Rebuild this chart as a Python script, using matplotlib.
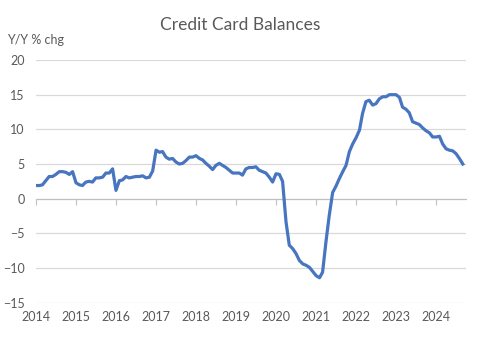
import pandas as pd
from matplotlib import pyplot as plt
import matplotlib.dates as mdates
import numpy as np

plt.rcParams['font.family'] = ['Lato', 'DejaVu Sans']

# monthly Y/Y % change, Jan 2014 .. Sep 2024
y2014 = [1.9, 1.9, 2.0, 2.6, 3.2, 3.2, 3.5, 3.9, 3.9, 3.8, 3.5, 3.9]
y2015 = [2.3, 2.0, 1.9, 2.4, 2.5, 2.4, 3.0, 3.0, 3.1, 3.7, 3.7, 4.3]
y2016 = [1.2, 2.6, 2.7, 3.2, 3.0, 3.1, 3.2, 3.2, 3.3, 3.0, 3.1, 4.0]
y2017 = [7.0, 6.7, 6.8, 6.0, 5.7, 5.8, 5.3, 5.0, 5.1, 5.5, 6.0, 6.0]
y2018 = [6.2, 5.8, 5.6, 5.1, 4.7, 4.2, 4.8, 5.1, 4.8, 4.5, 4.1, 3.7]
y2019 = [3.7, 3.7, 3.4, 4.3, 4.5, 4.5, 4.6, 4.1, 3.9, 3.7, 3.1, 2.4]
y2020 = [3.6, 3.5, 2.5, -3.3, -6.7, -7.2, -7.9, -8.9, -9.4, -9.6, -9.9, -10.5]
y2021 = [-11.1, -11.4, -10.6, -6.2, -2.4, 0.9, 1.8, 2.9, 3.9, 4.8, 6.8, 7.9]
y2022 = [8.8, 9.9, 12.3, 14.0, 14.2, 13.5, 13.7, 14.4, 14.7, 14.7, 15.0, 15.0]
y2023 = [15.0, 14.6, 13.2, 12.9, 12.4, 11.1, 10.9, 10.7, 10.2, 9.8, 9.5, 8.9]
y2024 = [8.9, 9.0, 7.9, 7.2, 7.0, 6.9, 6.5, 5.8, 5.0]

values = y2014 + y2015 + y2016 + y2017 + y2018 + y2019 + y2020 + y2021 + y2022 + y2023 + y2024
dates = pd.date_range('2014-01-01', periods=len(values), freq='MS')
yticks = [-15, -10, -5, 0, 5, 10, 15, 20]

txt = '#595959'
fig = plt.figure(figsize=(4.8, 3.39), dpi=100)
ax = fig.add_axes([0.075, 0.107, 0.896, 0.716])

ax.plot(dates, values, color='#4775C0', lw=2.3, solid_joinstyle='round', zorder=3)

ax.set_ylim(-15, 20)
ax.set_yticks(yticks)
ax.set_xlim(pd.Timestamp('2014-01-01'), pd.Timestamp('2024-10-01'))
ax.grid(axis='y', color='#D9D9D9', lw=0.9)
ax.set_axisbelow(True)
for s in ['top', 'right', 'left']:
    ax.spines[s].set_visible(False)

# x axis line crosses at zero, tick marks there, labels at the bottom
ax.spines['bottom'].set_position(('data', 0))
ax.spines['bottom'].set_color('#BFBFBF')
ax.xaxis.set_major_locator(mdates.YearLocator())
ax.tick_params(axis='x', direction='out', length=4.5, color='#BFBFBF', labelbottom=False)
ax.tick_params(axis='y', length=0, labelsize=9, labelcolor=txt, pad=8)

sec = ax.secondary_xaxis(0.0)
sec.xaxis.set_major_locator(mdates.YearLocator())
sec.xaxis.set_major_formatter(mdates.DateFormatter('%Y'))
sec.spines['bottom'].set_visible(False)
sec.tick_params(length=0, labelsize=9, labelcolor=txt, pad=6)

fig.text(0.5, 0.926, 'Credit Card Balances', ha='center', va='center', fontsize=12.5, color=txt)
fig.text(0.015, 0.882, 'Y/Y % chg', ha='left', va='center', fontsize=9, color=txt)

fig.savefig('out.png', dpi=100)
